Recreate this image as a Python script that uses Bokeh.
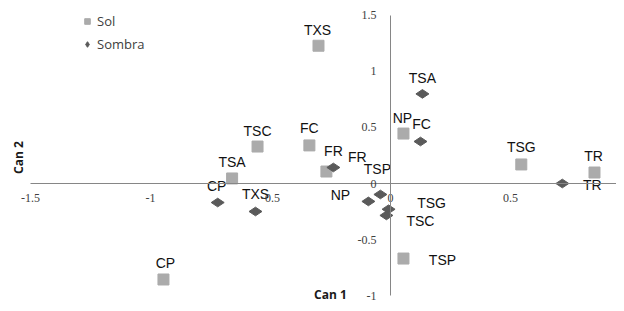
import math
from bokeh.plotting import figure
from bokeh.models import (Range1d, FixedTicker, Legend, LegendItem, ColumnDataSource,
                          Label, NumeralTickFormatter)
from bokeh.core.properties import value
from bokeh.embed import file_html
from bokeh.resources import INLINE

# ---- data ----
sol_names = ["TXS", "TSC", "FC", "NP", "TSA", "FR", "TSG", "TR", "CP", "TSP"]
sol_can1 = [-0.30, -0.554, -0.338, 0.054, -0.66, -0.267, 0.545, 0.85, -0.946, 0.054]
sol_can2 = [1.23, 0.33, 0.34, 0.446, 0.045, 0.107, 0.17, 0.098, -0.857, -0.67]

sombra_names = ["TSA", "FC", "FR", "TSP", "NP", "TSG", "TSC", "CP", "TXS", "TR"]
sombra_can1 = [0.133, 0.125, -0.238, -0.042, -0.092, -0.008, -0.017, -0.72, -0.5625, 0.716]
sombra_can2 = [0.80, 0.375, 0.143, -0.098, -0.16, -0.23, -0.285, -0.17, -0.25, 0.0]

x_ticks = [-1.5, -1, -0.5, 0, 0.5]
y_ticks = [-1, -0.5, 0, 0.5, 1, 1.5]

# label placement (screen px, +down)
sol_dx = [-1, 0, 0, -1, 0, 7, 0, -1, 2, 39]
sol_dy = [-16, -16, -17, -16, -16, -21, -17, -17, -16, 1]
sombra_dx = [0, 1, 24, -3, -28, 43, 34, -1, 0, 30]
sombra_dy = [-16, -17, -10, -25, -6, -6, 6, -17, -18, 1]

SOL_COLOR = "#ABABAB"
SOMBRA_COLOR = "#5A5A5A"
AXIS_COLOR = "#868686"

X0, X1 = -1.625, 0.9417
Y0, Y1 = -1.0714, 1.6339

p = figure(width=616, height=303, output_backend="svg", toolbar_location=None,
           x_range=Range1d(X0, X1), y_range=Range1d(Y0, Y1), min_border=0)
p.outline_line_color = None
p.xgrid.visible = False
p.ygrid.visible = False
p.background_fill_color = "white"

for ax, ticks, bounds in ((p.xaxis[0], x_ticks, (-1.5, X1)), (p.yaxis[0], y_ticks, (-1, 1.5))):
    ax.fixed_location = 0
    ax.ticker = FixedTicker(ticks=ticks)
    ax.formatter = NumeralTickFormatter(format="0.[0]")
    ax.bounds = bounds
    ax.axis_line_color = AXIS_COLOR
    ax.axis_line_width = 1
    ax.major_tick_line_color = None
    ax.minor_tick_line_color = None
    ax.major_tick_out = 0
    ax.major_tick_in = 0
    ax.major_label_text_font = "Liberation Serif"
    ax.major_label_text_font_size = "12px"
    ax.major_label_text_color = "#404040"
p.xaxis.major_label_standoff = 10
p.yaxis.major_label_standoff = 14

sol_src = ColumnDataSource(dict(x=sol_can1, y=sol_can2, name=sol_names, dx=sol_dx, dy=sol_dy))
sombra_src = ColumnDataSource(dict(x=sombra_can1, y=sombra_can2, name=sombra_names,
                                   dx=sombra_dx, dy=sombra_dy))

r_sol = p.scatter("x", "y", source=sol_src, marker="square", size=11,
                  fill_color=SOL_COLOR, line_color=SOL_COLOR)
r_sombra = p.scatter("x", "y", source=sombra_src, marker="diamond", size=13, angle=math.pi / 2,
                     fill_color=SOMBRA_COLOR, line_color=SOMBRA_COLOR)

for src in (sol_src, sombra_src):
    p.text("x", "y", text="name", source=src, x_offset="dx", y_offset="dy",
           text_font=value("Liberation Sans"), text_font_size="14px", text_color="#111111",
           text_align="center", text_baseline="middle")

legend = Legend(items=[LegendItem(label="Sol", renderers=[r_sol]),
                       LegendItem(label="Sombra", renderers=[r_sombra])],
                location=(80, 250))
legend.border_line_color = None
legend.background_fill_alpha = 0
legend.padding = 0
legend.margin = 0
legend.spacing = 5
legend.glyph_width = 14
legend.glyph_height = 14
legend.label_standoff = 3
legend.label_text_font = "Open Sans"
legend.label_text_font_size = "13px"
legend.label_text_color = "#404040"
p.add_layout(legend, "center")

p.add_layout(Label(x=-0.25, y=-0.991, text="Can 1", text_font="Open Sans", text_font_style="bold",
                   text_font_size="12px", text_color="#1a1a1a", text_align="center",
                   text_baseline="middle"))
p.add_layout(Label(x=-1.55, y=0.232, text="Can 2", angle=math.pi / 2, text_font="Open Sans",
                   text_font_style="bold", text_font_size="12px", text_color="#1a1a1a",
                   text_align="center", text_baseline="middle"))

open("out.html", "w").write(file_html(p, INLINE))
